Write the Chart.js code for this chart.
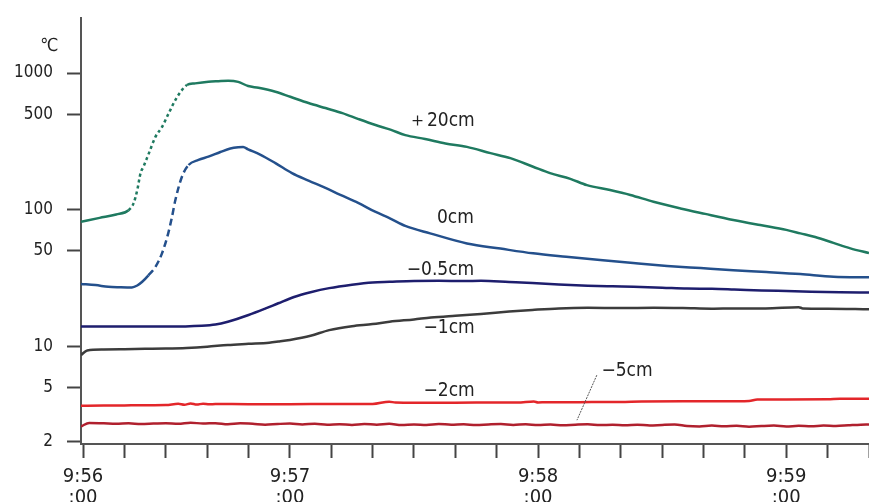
<!DOCTYPE html>
<html>
<head>
<meta charset="utf-8">
<script src="https://cdn.jsdelivr.net/npm/chart.js@4.4.1/dist/chart.umd.min.js"></script>
<style>
  html, body { margin: 0; padding: 0; background: #fff; }
  #wrap { width: 869px; height: 502px; }
</style>
</head>
<body>
<div id="wrap"><canvas id="tempChart" width="869" height="502"></canvas></div>
<script>
// x is counted in 10 second tick steps from the 9:56 tick
const X_LABEL_TICKS = [0, 5, 11, 17];
const X_LABELS = ['9:56', '9:57', '9:58', '9:59'];
const Y_TICKS = [2, 5, 10, 50, 100, 500, 1000];

// +20cm
const P20_X = [-0.05, 0.4, 0.8, 1.1, 1.22, 1.31, 1.39, 1.46, 1.59, 1.75, 1.91, 2.07, 2.23, 2.39, 2.51, 2.71, 3.03, 3.27, 3.51, 3.75, 3.99, 4.24, 4.65, 5.01, 5.45, 5.86, 6.27, 6.66, 7.07, 7.43, 7.79, 8.27, 8.76, 9.28, 9.85, 10.33, 10.88, 11.29, 11.78, 12.18, 12.74, 13.23, 13.79, 14.44, 15.04, 15.72, 16.37, 17.0, 17.34, 17.70, 18.14, 18.55, 19.0];
const P20_Y = [81.5, 87, 92, 99, 111, 139, 185, 206, 258, 341, 404, 507, 634, 750, 817, 840, 864, 872, 878, 862, 803, 780, 730, 670, 603, 554, 509, 460, 416, 385, 351, 329, 305, 288, 259, 238, 206, 185, 168, 151, 139, 128, 114, 102, 93, 84, 77, 71, 67, 63, 57, 52, 48];
// 0cm
const P0_X = [-0.05, 0.30, 0.61, 0.9, 1.18, 1.31, 1.43, 1.58, 1.75, 1.91, 2.06, 2.15, 2.23, 2.39, 2.55, 2.79, 3.03, 3.32, 3.56, 3.75, 3.87, 3.99, 4.28, 4.65, 5.05, 5.45, 5.86, 6.22, 6.65, 7.06, 7.43, 7.79, 8.39, 9.28, 10.09, 10.88, 11.68, 12.5, 13.3, 14.12, 14.93, 15.72, 16.52, 17.34, 18.14, 19.0];
const P0_Y = [28.5, 28, 27.2, 27.0, 26.9, 27.8, 29.6, 33, 38.1, 48, 67.3, 88.5, 117, 174, 212, 231, 244, 264, 280, 286, 287, 276, 253, 219, 185, 163, 144, 128, 112, 96.5, 86, 76, 67, 56.5, 51.8, 47.8, 45.1, 42.7, 40.6, 38.7, 37.3, 36.0, 34.9, 33.7, 32.2, 31.9];
// -0.5cm
const M05_X = [-0.05, 1.0, 2.0, 2.87, 3.2, 3.5, 4.0, 4.4, 4.72, 5.1, 5.5, 5.95, 6.5, 7.0, 7.41, 8.0, 8.6, 9.2, 9.62, 10.3, 10.86, 11.5, 12.2, 12.8, 13.31, 14.0, 14.6, 15.2, 15.74, 16.4, 17.0, 17.6, 18.3, 19.0];
const M05_Y = [13.9, 13.9, 13.9, 14.1, 14.4, 15.1, 16.9, 18.8, 20.6, 22.9, 24.8, 26.6, 28.2, 29.3, 29.6, 30.0, 30.1, 30.0, 30.1, 29.5, 29.0, 28.3, 27.7, 27.4, 27.2, 26.8, 26.4, 26.3, 26.0, 25.6, 25.3, 25.0, 24.8, 24.7];
// -1cm
const M1_X = [-0.05, 0.1, 0.5, 1.0, 1.5, 2.0, 2.5, 3.0, 3.5, 4.0, 4.5, 4.72, 5.0, 5.5, 5.95, 6.5, 7.0, 7.41, 8.0, 8.41, 9.0, 9.62, 10.3, 10.86, 11.5, 12.2, 13.0, 13.8, 14.5, 15.2, 15.74, 16.5, 17.3, 17.4, 18.0, 19.0];
const M1_Y = [8.6, 9.3, 9.45, 9.5, 9.55, 9.6, 9.7, 9.9, 10.2, 10.4, 10.6, 10.8, 11.1, 11.9, 13.1, 14.0, 14.5, 15.1, 15.7, 16.2, 16.7, 17.2, 17.9, 18.4, 18.9, 19.1, 19.0, 19.1, 19.0, 18.8, 18.9, 18.9, 19.3, 18.9, 18.8, 18.6];
// -2cm
const M2_X = [-0.05, 0.5, 1.0, 1.5, 2.0, 2.3, 2.45, 2.6, 2.75, 2.9, 3.05, 3.2, 4.0, 5.0, 6.0, 7.0, 7.4, 7.55, 7.75, 8.5, 9.5, 10.5, 10.9, 11.0, 11.2, 12.0, 13.0, 13.5, 14.5, 15.5, 16.1, 16.3, 17.0, 18.0, 18.3, 19.0];
const M2_Y = [3.66, 3.67, 3.68, 3.69, 3.70, 3.78, 3.72, 3.80, 3.73, 3.79, 3.75, 3.77, 3.76, 3.76, 3.77, 3.77, 3.92, 3.86, 3.85, 3.85, 3.86, 3.86, 3.93, 3.87, 3.89, 3.89, 3.90, 3.93, 3.94, 3.94, 3.96, 4.06, 4.07, 4.08, 4.12, 4.12];
// -5cm
const M5_X = [-0.05, 0.15, 0.5, 0.8, 1.1, 1.4, 1.7, 2.0, 2.3, 2.6, 2.9, 3.2, 3.5, 3.8, 4.1, 4.4, 4.7, 5.0, 5.3, 5.6, 5.9, 6.2, 6.5, 6.8, 7.1, 7.4, 7.7, 8.0, 8.3, 8.6, 8.9, 9.2, 9.5, 9.8, 10.1, 10.4, 10.7, 11.0, 11.3, 11.6, 11.9, 12.2, 12.5, 12.8, 13.1, 13.4, 13.7, 14.0, 14.3, 14.6, 14.9, 15.2, 15.5, 15.8, 16.1, 16.4, 16.7, 17.0, 17.3, 17.6, 17.9, 18.2, 18.5, 18.8, 19.0];
const M5_Y = [2.58, 2.74, 2.72, 2.70, 2.72, 2.69, 2.71, 2.73, 2.70, 2.75, 2.71, 2.73, 2.68, 2.72, 2.70, 2.66, 2.69, 2.71, 2.67, 2.70, 2.66, 2.68, 2.65, 2.69, 2.66, 2.70, 2.64, 2.67, 2.65, 2.69, 2.66, 2.68, 2.64, 2.67, 2.69, 2.65, 2.68, 2.64, 2.67, 2.63, 2.66, 2.68, 2.64, 2.66, 2.63, 2.66, 2.62, 2.65, 2.67, 2.60, 2.58, 2.62, 2.59, 2.61, 2.57, 2.60, 2.62, 2.58, 2.61, 2.59, 2.62, 2.60, 2.63, 2.66, 2.67];

// where the trace is drawn broken (dashed)
const P20_GAP = [1.1, 2.51];
const P0_GAP = [1.58, 2.55];

// curve labels, in data units
const LABEL_TEXT = ['＋20cm', '0cm', '−0.5cm', '−1cm', '−2cm', '−5cm'];
const LABEL_X = [8.66, 9.0, 8.64, 8.85, 8.85, 13.15];
const LABEL_Y = [445, 86.7, 36, 13.5, 4.68, 6.56];
const LEADER = [[12.42, 6.13], [11.94, 2.87]];

const FONT = "'Liberation Sans Narrow', 'DejaVu Sans Condensed', 'Arial Narrow', sans-serif";

function pts(xs, ys) {
    return xs.map((x, i) => ({ x: x, y: ys[i] }));
}

function gapDash(gap, dash) {
    return ctx => (ctx.p0.parsed.x >= gap[0] && ctx.p1.parsed.x <= gap[1] ? dash : undefined);
}

function line(label, xs, ys, color, gap, dash) {
    const ds = {
        label: label,
        data: pts(xs, ys),
        borderColor: color,
        borderWidth: 2.5,
        pointRadius: 0,
        cubicInterpolationMode: 'monotone',
        fill: false
    };
    if (gap) ds.segment = { borderDash: gapDash(gap, dash) };
    return ds;
}

const labelPlugin = {
    id: 'curveLabels',
    afterDatasetsDraw(chart) {
        const c = chart.ctx;
        const xs = chart.scales.x, ys = chart.scales.y;
        c.save();
        c.fillStyle = '#222';
        c.font = '19px ' + FONT;
        c.textAlign = 'center';
        c.textBaseline = 'middle';
        LABEL_TEXT.forEach((t, i) => {
            c.fillText(t, xs.getPixelForValue(LABEL_X[i]), ys.getPixelForValue(LABEL_Y[i]));
        });
        c.strokeStyle = '#555';
        c.lineWidth = 1;
        c.setLineDash([2, 1]);
        c.beginPath();
        c.moveTo(xs.getPixelForValue(LEADER[0][0]), ys.getPixelForValue(LEADER[0][1]));
        c.lineTo(xs.getPixelForValue(LEADER[1][0]), ys.getPixelForValue(LEADER[1][1]));
        c.stroke();
        c.setLineDash([]);
        // unit on top of the y axis
        c.font = '18px ' + FONT;
        c.fillText('℃', chart.chartArea.left - 32, chart.chartArea.top + 28);
        c.restore();
    }
};

new Chart(document.getElementById('tempChart'), {
    type: 'line',
    data: {
        datasets: [
            line('+20cm', P20_X, P20_Y, '#1f7a60', P20_GAP, [3, 3]),
            line('0cm', P0_X, P0_Y, '#24508c', P0_GAP, [7, 4]),
            line('-0.5cm', M05_X, M05_Y, '#1e1e6e'),
            line('-1cm', M1_X, M1_Y, '#3c3c3c'),
            line('-2cm', M2_X, M2_Y, '#e3262a'),
            line('-5cm', M5_X, M5_Y, '#b0202e')
        ]
    },
    options: {
        responsive: false,
        animation: false,
        layout: { padding: { top: 18, right: 0, left: 0, bottom: 0 } },
        plugins: { legend: { display: false }, tooltip: { enabled: false } },
        scales: {
            x: {
                type: 'linear',
                min: -0.05,
                max: 19,
                afterBuildTicks: scale => {
                    const t = [];
                    for (let i = 0; i <= 19; i++) t.push({ value: i });
                    scale.ticks = t;
                },
                afterFit: scale => {
                    scale.height = 58;
                    scale.paddingLeft = 0;
                    scale.paddingRight = 0;
                },
                ticks: {
                    autoSkip: false,
                    maxRotation: 0,
                    padding: 8,
                    color: '#222',
                    font: { family: FONT, size: 20, lineHeight: 1.05 },
                    callback: v => {
                        const k = X_LABEL_TICKS.indexOf(v);
                        return k < 0 ? '' : [X_LABELS[k], ':00'];
                    }
                },
                grid: { drawOnChartArea: false, drawTicks: true, tickLength: 14, tickColor: '#444', tickWidth: 2 },
                border: { display: true, color: '#555', width: 2 }
            },
            y: {
                type: 'logarithmic',
                min: 1.92,
                max: 2530,
                afterBuildTicks: scale => {
                    scale.ticks = Y_TICKS.map(v => ({ value: v }));
                },
                afterFit: scale => {
                    scale.width = 81;
                    scale.paddingTop = 0;
                    scale.paddingBottom = 0;
                },
                ticks: {
                    autoSkip: false,
                    padding: 14,
                    color: '#222',
                    font: { family: FONT, size: 17 },
                    callback: v => String(v)
                },
                grid: { drawOnChartArea: false, drawTicks: true, tickLength: 14, tickColor: '#444', tickWidth: 2 },
                border: { display: true, color: '#555', width: 2 }
            }
        }
    },
    plugins: [labelPlugin]
});
</script>
</body>
</html>
